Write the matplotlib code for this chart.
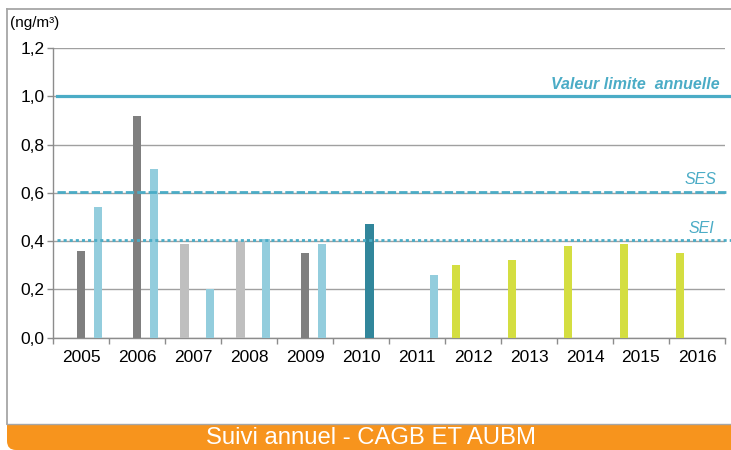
import matplotlib
matplotlib.use("Agg")
import matplotlib.pyplot as plt
from matplotlib.patches import FancyBboxPatch, Rectangle
from matplotlib.lines import Line2D
import numpy as np

plt.rcParams['font.family'] = ['Liberation Sans', 'DejaVu Sans']

years = ['2005', '2006', '2007', '2008', '2009', '2010', '2011', '2012',
         '2013', '2014', '2015', '2016']
# series order within a year group: yellow, light grey, dark grey, teal, light blue
s_yellow = [None, None, None, None, None, None, None, 0.30, 0.32, 0.38, 0.39, 0.35]
s_lightgrey = [None, None, 0.39, 0.40, None, None, None, None, None, None, None, None]
s_darkgrey = [0.36, 0.92, None, None, 0.35, None, None, None, None, None, None, None]
s_teal = [None, None, None, None, None, 0.47, None, None, None, None, None, None]
s_lightblue = [0.54, 0.70, 0.20, 0.41, 0.39, None, 0.26, None, None, None, None, None]

series = [s_yellow, s_lightgrey, s_darkgrey, s_teal, s_lightblue]
colors = ['#D4DE41', '#BFBFBF', '#7F7F7F', '#31869B', '#93CDDD']

limite = 1.0
ses = 0.6
sei = 0.4
yticks = [0.0, 0.2, 0.4, 0.6, 0.8, 1.0, 1.2]
ytick_labels = ['0,0', '0,2', '0,4', '0,6', '0,8', '1,0', '1,2']

W, H = 731, 450
fig = plt.figure(figsize=(W / 100, H / 100), dpi=100)

def fx(px):
    return px / W

def fy(py):
    return 1 - py / H

# outer frame
fig.patches.append(Line2D([fx(7), fx(7)], [fy(9), fy(424)], transform=fig.transFigure,
                          color='#A6A6A6', lw=1.3))
fig.patches.append(Line2D([fx(7), 1.0], [fy(9), fy(9)], transform=fig.transFigure,
                          color='#A6A6A6', lw=1.3))
band = FancyBboxPatch((0.07, 0.0), 7.6, 0.255,
                      boxstyle="round,pad=0,rounding_size=0.09",
                      transform=fig.dpi_scale_trans,
                      facecolor='#F7941D', edgecolor='none')
fig.patches.append(band)
band_top = Rectangle((0.07, 0.12), 7.6, 0.135, transform=fig.dpi_scale_trans,
                     facecolor='#F7941D', edgecolor='none')
fig.patches.append(band_top)
fig.patches.append(Line2D([fx(7), 1.0], [fy(424), fy(424)], transform=fig.transFigure,
                          color='#A6A6A6', lw=1.0))
fig.text(fx(371.5), fy(437.5), 'Suivi annuel - CAGB ET AUBM', color='white', fontsize=17.2,
         ha='center', va='center')

ax = fig.add_axes([fx(53), fy(337.7), fx(725) - fx(53), fy(48) - fy(337.7)])
x = np.arange(len(years))
bw = 0.15
for j, (s, c) in enumerate(zip(series, colors)):
    xs = [xi + (j - 2) * 0.152 for xi, v in zip(x, s) if v is not None]
    vs = [v for v in s if v is not None]
    ax.bar(xs, vs, width=bw, color=c, edgecolor='none', zorder=3)

ax.set_xlim(-0.5, len(years) - 0.5)
ax.set_ylim(0, 1.2)
ax.set_yticks(yticks)
ax.set_yticklabels(ytick_labels)
ax.set_xticks(x)
ax.set_xticklabels(years)
ax.set_xticks(np.arange(-0.5, len(years), 1.0), minor=True)
ax.tick_params(axis='x', which='major', length=0, pad=8.5, labelsize=12.5, colors='#000000')
ax.tick_params(axis='x', which='minor', length=4, width=1, color='#8C8C8C')
ax.tick_params(axis='y', length=4, width=1, color='#8C8C8C', pad=2, labelsize=12.5)
ax.yaxis.grid(True, color='#A0A0A0', lw=1.0, zorder=0)
ax.set_axisbelow(True)
for sp in ['top', 'right']:
    ax.spines[sp].set_visible(False)
for sp in ['left', 'bottom']:
    ax.spines[sp].set_color('#8C8C8C')
    ax.spines[sp].set_linewidth(1.0)

lc = '#4BACC6'
ax.axhline(limite, xmin=0.006, xmax=1.009, color=lc, lw=2.3, clip_on=False, zorder=4)
ax.axhline(ses + 0.004, xmin=0.006, xmax=1.003, color=lc, lw=2.0, ls=(0, (3.0, 1.1)),
           clip_on=False, zorder=4)
ax.axhline(sei + 0.004, xmin=0.006, xmax=1.009, color=lc, lw=2.0, ls=(0, (1.1, 1.1)),
           clip_on=False, zorder=4)

ax.text(fx(720), fy(89), 'Valeur limite  annuelle', transform=fig.transFigure, color=lc,
        fontsize=11.5, fontweight='bold', fontstyle='italic', ha='right', va='baseline')
ax.text(fx(716), fy(184), 'SES', transform=fig.transFigure, color=lc,
        fontsize=11.5, fontstyle='italic', ha='right', va='baseline')
ax.text(fx(714), fy(233), 'SEI', transform=fig.transFigure, color=lc,
        fontsize=11.5, fontstyle='italic', ha='right', va='baseline')
fig.text(fx(10), fy(27), '(ng/m³)', fontsize=11, ha='left', va='baseline')

fig.savefig('out.png', dpi=100)
